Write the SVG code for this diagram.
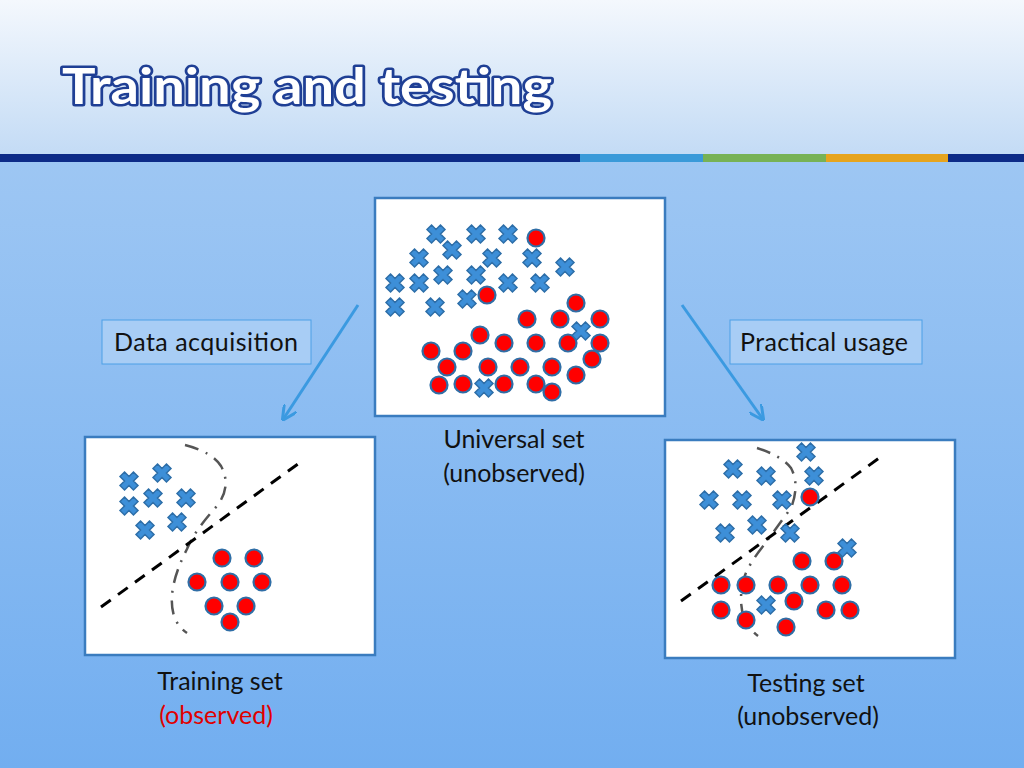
<svg xmlns="http://www.w3.org/2000/svg" xmlns:xlink="http://www.w3.org/1999/xlink" width="1024" height="768" viewBox="0 0 1024 768">
<defs>
<linearGradient id="bg" x1="0" y1="0" x2="0" y2="1"><stop offset="0" stop-color="#a9cdf4"/><stop offset="1" stop-color="#72aef0"/></linearGradient>
<linearGradient id="hd" x1="0" y1="0" x2="0" y2="1"><stop offset="0" stop-color="#f4f8fd"/><stop offset="1" stop-color="#c3dbf5"/></linearGradient>
<polygon id="x" transform="rotate(45)" points="-3.2,-9.5 3.2,-9.5 3.2,-3.2 9.5,-3.2 9.5,3.2 3.2,3.2 3.2,9.5 -3.2,9.5 -3.2,3.2 -9.5,3.2 -9.5,-3.2 -3.2,-3.2" fill="#3d8fd8" stroke="#2d6ea8" stroke-width="1.5"/>
<circle id="o" r="8.5" fill="#ff0000" stroke="#2f6ea6" stroke-width="2.2"/>
<marker id="ah" viewBox="0 0 10 10" refX="8" refY="5" markerWidth="5" markerHeight="5" orient="auto"><path d="M0,0 L10,5 L0,10" fill="none" stroke="#3b9ae1" stroke-width="2"/></marker>
</defs>
<style>
.box{fill:#fff;stroke:#3a7cbf;stroke-width:2.5}
.t{font-family:"Gill Sans","Lato","Liberation Sans",sans-serif;font-size:25px;fill:#111}
.dash{fill:none;stroke:#000;stroke-width:3;stroke-dasharray:12,9}
.dd{fill:none;stroke:#555;stroke-width:2.5;stroke-dasharray:14,8,2,8}
.lbl{fill:#a8cdf5;stroke:#4d9fe6;stroke-width:1}
</style>
<rect width="1024" height="768" fill="url(#bg)"/>
<rect width="1024" height="155" fill="url(#hd)"/>
<rect x="0" y="154" width="580" height="8" fill="#0d2b87"/>
<rect x="580" y="154" width="123" height="8" fill="#3a9ad9"/>
<rect x="703" y="154" width="123" height="8" fill="#77b255"/>
<rect x="826" y="154" width="122" height="8" fill="#e6a41e"/>
<rect x="948" y="154" width="76" height="8" fill="#0d2b87"/>
<text x="62" y="104" font-family="Lato,'Liberation Sans',sans-serif" font-size="50" font-weight="bold" fill="#fff" stroke="#1f3f95" stroke-width="5" stroke-linejoin="round" paint-order="stroke" textLength="490" lengthAdjust="spacingAndGlyphs">Training and testing</text>

<g id="connectors">
<line x1="358" y1="305" x2="284" y2="418" stroke="#3b9ae1" stroke-width="3" marker-end="url(#ah)"/>
<line x1="682" y1="305" x2="762" y2="418" stroke="#3b9ae1" stroke-width="3" marker-end="url(#ah)"/>
</g>

<g id="lbl-acq"><rect class="lbl" x="102" y="320" width="209" height="44"/><text class="t" x="206" y="351" text-anchor="middle" textLength="184">Data acquisition</text></g>
<g id="lbl-use"><rect class="lbl" x="730" y="320" width="192" height="44"/><text class="t" x="824" y="351" text-anchor="middle" textLength="168">Practical usage</text></g>

<g id="universal">
<rect class="box" x="375" y="198" width="290" height="218"/>
<use href="#x" x="436" y="234"/><use href="#x" x="476" y="234"/><use href="#x" x="508" y="234"/><use href="#x" x="452" y="250"/><use href="#x" x="419" y="258"/><use href="#x" x="492" y="258"/><use href="#x" x="532" y="258"/><use href="#x" x="565" y="267"/><use href="#x" x="443" y="275"/><use href="#x" x="476" y="275"/><use href="#x" x="395" y="283"/><use href="#x" x="419" y="283"/><use href="#x" x="508" y="283"/><use href="#x" x="540" y="283"/><use href="#x" x="395" y="307"/><use href="#x" x="435" y="307"/><use href="#x" x="467" y="299"/>
<use href="#o" x="536" y="238"/><use href="#o" x="487" y="295"/><use href="#o" x="576" y="303"/><use href="#o" x="527" y="319"/><use href="#o" x="560" y="319"/><use href="#o" x="600" y="319"/><use href="#o" x="480" y="335"/><use href="#o" x="504" y="343"/><use href="#o" x="536" y="343"/><use href="#o" x="568" y="343"/><use href="#o" x="600" y="343"/><use href="#o" x="431" y="351"/><use href="#o" x="463" y="351"/><use href="#o" x="592" y="359"/><use href="#o" x="447" y="367"/><use href="#o" x="488" y="367"/><use href="#o" x="520" y="367"/><use href="#o" x="552" y="367"/><use href="#o" x="576" y="375"/><use href="#o" x="439" y="385"/><use href="#o" x="463" y="384"/><use href="#o" x="504" y="384"/><use href="#o" x="536" y="384"/><use href="#o" x="552" y="392"/>
<use href="#x" x="581" y="331"/><use href="#x" x="484" y="388"/>
<text class="t" x="514" y="448" text-anchor="middle">Universal set</text>
<text class="t" x="514" y="482" text-anchor="middle">(unobserved)</text>
</g>

<g id="training">
<rect class="box" x="85" y="437" width="290" height="218"/>
<path class="dd" d="M185,445 Q212,452 221,466 Q232,486 217,506 Q195,530 187,549 Q166,590 174,616 Q178,627 187,633"/>
<line class="dash" x1="101" y1="607" x2="302" y2="461"/>
<use href="#x" x="129" y="481"/><use href="#x" x="162" y="473"/><use href="#x" x="153" y="498"/><use href="#x" x="186" y="498"/><use href="#x" x="129" y="506"/><use href="#x" x="177" y="522"/><use href="#x" x="145" y="530"/>
<use href="#o" x="222" y="558"/><use href="#o" x="254" y="558"/><use href="#o" x="197" y="582"/><use href="#o" x="230" y="582"/><use href="#o" x="262" y="582"/><use href="#o" x="214" y="606"/><use href="#o" x="246" y="606"/><use href="#o" x="230" y="622"/>
<text class="t" x="220" y="690" text-anchor="middle">Training set</text>
<text class="t" x="216" y="724" text-anchor="middle" style="fill:#e00000">(observed)</text>
</g>

<g id="testing">
<rect class="box" x="665" y="440" width="290" height="218"/>
<path class="dd" d="M757,448 Q782,456 791,468 Q800,485 791,508 Q775,530 764,545 Q748,565 744,578 Q738,600 744,618 Q750,630 758,636"/>
<line class="dash" x1="681" y1="601" x2="882" y2="456"/>
<use href="#x" x="806" y="452"/><use href="#x" x="733" y="469"/><use href="#x" x="766" y="476"/><use href="#x" x="814" y="476"/><use href="#x" x="709" y="500"/><use href="#x" x="742" y="500"/><use href="#x" x="782" y="500"/><use href="#x" x="757" y="525"/><use href="#x" x="725" y="533"/><use href="#x" x="790" y="533"/><use href="#x" x="847" y="548"/>
<use href="#o" x="810" y="497"/><use href="#o" x="802" y="561"/><use href="#o" x="834" y="561"/><use href="#o" x="721" y="585"/><use href="#o" x="746" y="585"/><use href="#o" x="778" y="585"/><use href="#o" x="810" y="585"/><use href="#o" x="842" y="585"/><use href="#o" x="794" y="601"/><use href="#o" x="721" y="610"/><use href="#o" x="826" y="610"/><use href="#o" x="850" y="610"/><use href="#o" x="746" y="620"/><use href="#o" x="786" y="627"/>
<use href="#x" x="766" y="605"/>
<text class="t" x="806" y="692" text-anchor="middle">Testing set</text>
<text class="t" x="808" y="725" text-anchor="middle">(unobserved)</text>
</g>
</svg>
